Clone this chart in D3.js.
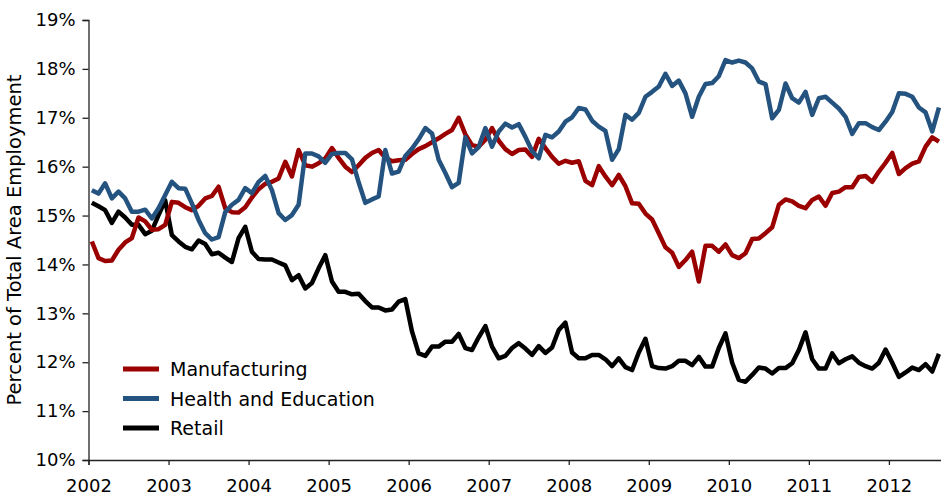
<!DOCTYPE html>
<html>
<head>
<meta charset="utf-8">
<script src="https://cdn.jsdelivr.net/npm/d3@7"></script>
<style>
  html, body { margin: 0; padding: 0; background: #fff; }
  svg text { font-family: 'DejaVu Sans', sans-serif; fill: #000; }
</style>
</head>
<body>
<div id="chart"></div>
<script>
// monthly shares, Jan 2002 .. Aug 2012
const manufacturing = [
  14.47, 14.13, 14.07, 14.08, 14.30, 14.45, 14.54, 14.96, 14.88, 14.71, 14.72, 14.81,
  15.28, 15.26, 15.17, 15.11, 15.20, 15.35, 15.40, 15.59, 15.15, 15.07, 15.06, 15.17,
  15.37, 15.54, 15.65, 15.69, 15.76, 16.10, 15.80, 16.34, 16.03, 16.00, 16.07, 16.17,
  16.38, 16.18, 16.00, 15.89, 16.03, 16.18, 16.28, 16.34, 16.18, 16.11, 16.13, 16.14,
  16.26, 16.36, 16.42, 16.50, 16.58, 16.67, 16.75, 17.00, 16.66, 16.44, 16.41, 16.55,
  16.79, 16.53, 16.36, 16.26, 16.34, 16.35, 16.20, 16.57, 16.38, 16.20, 16.06, 16.12,
  16.08, 16.11, 15.71, 15.62, 16.01, 15.80, 15.62, 15.83, 15.60, 15.25, 15.24, 15.04,
  14.92, 14.64, 14.35, 14.24, 13.95, 14.09, 14.26, 13.65, 14.38, 14.38, 14.26, 14.41,
  14.19, 14.13, 14.23, 14.52, 14.53, 14.64, 14.76, 15.22, 15.33, 15.29, 15.20, 15.15,
  15.32, 15.39, 15.20, 15.46, 15.49, 15.58, 15.58, 15.79, 15.81, 15.69, 15.90, 16.08,
  16.28, 15.85, 15.97, 16.06, 16.11, 16.41, 16.60, 16.51
];

const healthEducation = [
  15.52, 15.45, 15.66, 15.35, 15.49, 15.35, 15.08, 15.08, 15.12, 14.94, 15.15, 15.42,
  15.69, 15.56, 15.55, 15.25, 14.91, 14.64, 14.51, 14.56, 15.07, 15.22, 15.32, 15.56,
  15.46, 15.69, 15.81, 15.52, 15.05, 14.91, 15.01, 15.22, 16.27, 16.27, 16.21, 16.08,
  16.26, 16.28, 16.28, 16.15, 15.68, 15.26, 15.33, 15.39, 16.34, 15.86, 15.90, 16.22,
  16.37, 16.56, 16.79, 16.68, 16.14, 15.87, 15.58, 15.67, 16.60, 16.27, 16.40, 16.79,
  16.41, 16.72, 16.88, 16.80, 16.87, 16.61, 16.32, 16.17, 16.65, 16.60, 16.72, 16.92,
  17.01, 17.20, 17.17, 16.94, 16.82, 16.73, 16.14, 16.36, 17.06, 16.96, 17.10, 17.43,
  17.53, 17.64, 17.90, 17.65, 17.76, 17.50, 17.02, 17.43, 17.69, 17.71, 17.85, 18.18,
  18.13, 18.17, 18.13, 18.01, 17.74, 17.69, 16.99, 17.16, 17.70, 17.40, 17.31, 17.53,
  17.06, 17.40, 17.43, 17.31, 17.19, 17.02, 16.67, 16.89, 16.89, 16.81, 16.75, 16.92,
  17.12, 17.50, 17.49, 17.43, 17.21, 17.11, 16.72, 17.21
];

const retail = [
  15.26, 15.19, 15.11, 14.85, 15.08, 14.96, 14.81, 14.81, 14.62, 14.69, 15.01, 15.31,
  14.60, 14.47, 14.36, 14.31, 14.49, 14.42, 14.21, 14.24, 14.14, 14.05, 14.54, 14.77,
  14.26, 14.11, 14.10, 14.10, 14.04, 13.98, 13.68, 13.78, 13.51, 13.62, 13.92, 14.19,
  13.65, 13.44, 13.44, 13.39, 13.40, 13.25, 13.12, 13.12, 13.06, 13.08, 13.24, 13.29,
  12.63, 12.18, 12.13, 12.32, 12.32, 12.42, 12.42, 12.58, 12.29, 12.25, 12.51, 12.74,
  12.32, 12.08, 12.13, 12.29, 12.39, 12.28, 12.15, 12.33, 12.19, 12.30, 12.66, 12.81,
  12.20, 12.08, 12.08, 12.15, 12.15, 12.06, 11.92, 12.08, 11.90, 11.84, 12.20, 12.48,
  11.92, 11.88, 11.87, 11.92, 12.03, 12.03, 11.94, 12.11, 11.91, 11.91, 12.29, 12.59,
  11.99, 11.64, 11.60, 11.74, 11.89, 11.87, 11.77, 11.88, 11.88, 11.98, 12.25, 12.61,
  12.06, 11.87, 11.87, 12.18, 11.98, 12.06, 12.12, 11.99, 11.92, 11.87, 11.99, 12.26,
  11.99, 11.70, 11.79, 11.89, 11.84, 11.96, 11.81, 12.17
];

const years = [2002, 2003, 2004, 2005, 2006, 2007, 2008, 2009, 2010, 2011, 2012];
const yTicks = [10, 11, 12, 13, 14, 15, 16, 17, 18, 19];

const seriesNames = ['Manufacturing', 'Health and Education', 'Retail'];
const seriesColors = ['#9b0000', '#245380', '#000000'];

const width = 941;
const height = 496;
const margin = { top: 20, right: 0, bottom: 36, left: 88.5 };
const fontFamily = "'DejaVu Sans', sans-serif";

const svg = d3.select('#chart')
  .append('svg')
  .attr('width', width)
  .attr('height', height);

// months since Jan 2002, points sit mid-month
const x = d3.scaleLinear()
  .domain([0, 128])
  .range([margin.left, margin.left + 128 * 6.67]);

const y = d3.scaleLinear()
  .domain([10, 19])
  .range([height - margin.bottom, margin.top]);

const xAxis = d3.axisBottom(x)
  .tickValues(years.map((yr) => (yr - 2002) * 12))
  .tickFormat((d, i) => years[i])
  .tickSizeOuter(0)
  .tickSize(5)
  .tickPadding(14);

const yAxis = d3.axisLeft(y)
  .tickValues(yTicks)
  .tickFormat((d) => d + '%')
  .tickSizeOuter(0)
  .tickSize(6)
  .tickPadding(7);

const gx = svg.append('g')
  .attr('transform', `translate(0,${height - margin.bottom})`)
  .call(xAxis);

const gy = svg.append('g')
  .attr('transform', `translate(${margin.left},0)`)
  .call(yAxis);

[gx, gy].forEach((g) => {
  g.select('.domain').attr('stroke', '#222').attr('stroke-width', 1.3);
  g.selectAll('.tick line').attr('stroke', '#222').attr('stroke-width', 1.3);
  g.selectAll('.tick text')
    .attr('font-size', 18)
    .attr('font-family', fontFamily)
    .attr('fill', '#000');
});

svg.append('text')
  .attr('transform', `translate(21,${(margin.top + height - margin.bottom) / 2}) rotate(-90)`)
  .attr('text-anchor', 'middle')
  .attr('font-size', 19.5)
  .text('Percent of Total Area Employment');

const line = d3.line()
  .x((d, i) => x(i + 0.5))
  .y((d) => y(d));

const allSeries = [manufacturing, healthEducation, retail];

// retail first so the coloured lines sit on top
[2, 0, 1].forEach((k) => {
  svg.append('path')
    .datum(allSeries[k])
    .attr('fill', 'none')
    .attr('stroke', seriesColors[k])
    .attr('stroke-width', 4.5)
    .attr('stroke-linejoin', 'round')
    .attr('d', line);
});

const legend = svg.append('g');

seriesNames.forEach((name, k) => {
  const ly = 369 + k * 29.5;
  legend.append('line')
    .attr('x1', 123)
    .attr('x2', 159)
    .attr('y1', ly)
    .attr('y2', ly)
    .attr('stroke', seriesColors[k])
    .attr('stroke-width', 5);
  legend.append('text')
    .attr('x', 170)
    .attr('y', ly + 7)
    .attr('font-size', 19)
    .text(name);
});
</script>
</body>
</html>
